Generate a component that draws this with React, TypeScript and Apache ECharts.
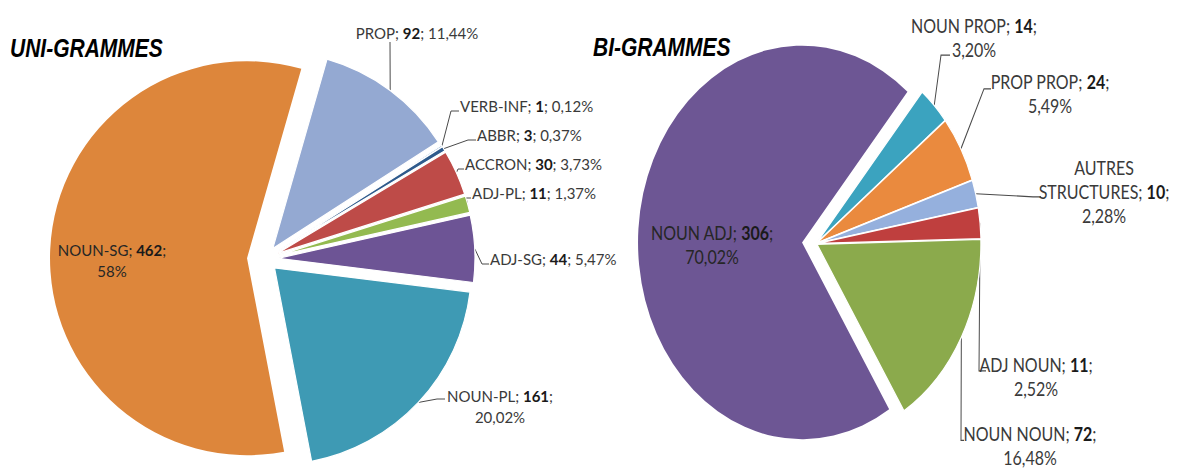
import React, { useEffect, useRef } from 'react';
import * as echarts from 'echarts';

// ---------- data ----------
const uniCategories = ['PROP', 'VERB-INF', 'ABBR', 'ACCRON', 'ADJ-PL', 'ADJ-SG', 'NOUN-PL', 'NOUN-SG'];
const uniValues = [92, 1, 3, 30, 11, 44, 161, 462];
const uniPercents = ['11,44%', '0,12%', '0,37%', '3,73%', '1,37%', '5,47%', '20,02%', '58%'];

const biCategories = ['NOUN PROP', 'PROP PROP', 'AUTRES STRUCTURES', 'ADJ NOUN', 'NOUN NOUN', 'NOUN ADJ'];
const biValues = [14, 24, 10, 11, 72, 306];
const biPercents = ['3,20%', '5,49%', '2,28%', '2,52%', '16,48%', '70,02%'];

const uniTitle = 'UNI-GRAMMES';
const biTitle = 'BI-GRAMMES';

// ---------- styles ----------
const uniColors = ['#94A9D2', '#4F81BD', '#2E5A8C', '#BE4B48', '#93BA50', '#6D5495', '#3E9AB4', '#DD863B'];
const biColors = ['#3BA3BF', '#EA8A3E', '#95B0DD', '#BF3F3E', '#8BAA4C', '#6D5694'];

// ---------- layout ----------
type Cfg = {
  cx: number; cy: number; r: number; startDeg: number; smallOffset: number; bigOffset: number;
  bigIndex: number; fontSize: number; lineHeight: number;
};
const UNI: Cfg = { cx: 265, cy: 259, r: 197, startDeg: 16, smallOffset: 13, bigOffset: 18, bigIndex: 7, fontSize: 15, lineHeight: 21 };
const BI: Cfg = { cx: 226, cy: 203, r: 164, startDeg: 40, smallOffset: 1, bigOffset: 14, bigIndex: 5, fontSize: 16, lineHeight: 20 };
const BI_SCALE_Y = 1.2;

type Spec = { x: number; y: number; align: 'left' | 'center'; wrap: 'none' | 'value' | 'name'; line?: number[][] };
const uniLabelSpecs: Spec[] = [
  { x: 417, y: 33, align: 'center', wrap: 'none', line: [[390, 42]] },
  { x: 460, y: 106, align: 'left', wrap: 'none', line: [[451, 111], [459, 111]] },
  { x: 477, y: 135, align: 'left', wrap: 'none', line: [[468, 140], [476, 140]] },
  { x: 465, y: 164, align: 'left', wrap: 'none', line: [[458, 169], [464, 169]] },
  { x: 472, y: 193, align: 'left', wrap: 'none', line: [[466, 198], [471, 198]] },
  { x: 490, y: 259, align: 'left', wrap: 'none', line: [[482, 264], [489, 264]] },
  { x: 500, y: 406, align: 'center', wrap: 'value', line: [[437, 399], [445, 399]] },
  { x: 112, y: 260, align: 'center', wrap: 'value' },
];
const biLabelSpecs: Spec[] = [
  { x: 384, y: 32, align: 'center', wrap: 'value', line: [[351, 46], [360, 46]] },
  { x: 460, y: 78.5, align: 'center', wrap: 'value', line: [[394, 74], [401, 74]] },
  { x: 514, y: 160, align: 'center', wrap: 'name', line: [[443, 164], [451, 164]] },
  { x: 446, y: 314, align: 'center', wrap: 'value', line: [[389, 309], [396, 309]] },
  { x: 440, y: 372, align: 'center', wrap: 'value', line: [[371, 367], [374, 367]] },
  { x: 122, y: 204, align: 'center', wrap: 'value' },
];

function midAngles(values: number[], startDeg: number) {
  const total = values.reduce((a, b) => a + b, 0);
  let acc = startDeg;
  return values.map((v) => {
    const span = (v / total) * 360;
    const m = acc + span / 2;
    acc += span;
    return m;
  });
}

function buildSeries(cats: string[], vals: number[], pcts: string[], colors: string[], cfg: Cfg, specs: Spec[]) {
  const mids = midAngles(vals, cfg.startDeg);
  const fmt = (i: number) => {
    const s = specs[i];
    if (s.wrap === 'none') return `{n|${cats[i]}; }{b|${vals[i]}}{n|; ${pcts[i]}}`;
    const name = s.wrap === 'name' ? cats[i].replace(' ', '}\n{n|') : cats[i];
    return `{n|${name}; }{b|${vals[i]}}{n|;}\n{n|${pcts[i]}}`;
  };
  return cats.map((_, k) => {
    const isBig = k === cfg.bigIndex;
    const off = isBig ? cfg.bigOffset : cfg.smallOffset;
    const rad = (mids[k] * Math.PI) / 180;
    const cx = cfg.cx + off * Math.sin(rad);
    const cy = cfg.cy - off * Math.cos(rad);
    const arc = [cx + cfg.r * Math.sin(rad), cy - cfg.r * Math.cos(rad)];
    const s = specs[k];
    const textColor = isBig ? '#262626' : '#3A3A3A';
    return {
      type: 'pie',
      name: cats[k],
      center: [cx, cy],
      radius: cfg.r,
      startAngle: 90 - cfg.startDeg,
      clockwise: true,
      silent: true,
      avoidLabelOverlap: false,
      emphasis: { disabled: true },
      itemStyle: { borderColor: '#fff', borderWidth: isBig ? 0 : 1.2 },
      label: {
        show: true,
        position: isBig ? 'inside' : 'outside',
        formatter: (p: any) => fmt(p.dataIndex),
        rich: {
          n: { fontFamily: 'Lato', fontSize: cfg.fontSize, color: textColor, lineHeight: cfg.lineHeight },
          b: { fontFamily: 'Lato', fontSize: cfg.fontSize, color: '#1A1A1A', fontWeight: 'bold', lineHeight: cfg.lineHeight },
        },
        overflow: 'none',
      },
      labelLine: { show: !isBig, lineStyle: { color: '#4A4A4A', width: 1 } },
      labelLayout: (p: any) => {
        if (p.dataIndex !== k) return {};
        const out: any = { x: s.x, y: s.y, align: s.align, verticalAlign: 'middle' };
        if (!isBig) out.labelLinePoints = [arc, ...(s.line || [])];
        return out;
      },
      data: cats.map((name, i) =>
        i === k
          ? { name, value: vals[i], itemStyle: { color: colors[i] } }
          : {
              name,
              value: vals[i],
              itemStyle: { color: 'rgba(0,0,0,0)', borderWidth: 0 },
              label: { show: false },
              labelLine: { show: false },
            }
      ),
    };
  });
}

const titleStyle = {
  fontFamily: 'Liberation Sans',
  fontSize: 21,
  fontWeight: 'bold',
  fontStyle: 'italic',
  fill: '#000',
  textVerticalAlign: 'middle',
};

const uniOption: any = {
  animation: false,
  backgroundColor: 'transparent',
  graphic: [{ type: 'text', x: 10, y: 48, scaleY: 1.25, style: { ...titleStyle, text: uniTitle } }],
  series: buildSeries(uniCategories, uniValues, uniPercents, uniColors, UNI, uniLabelSpecs),
};

const biOption: any = {
  animation: false,
  backgroundColor: 'transparent',
  graphic: [{ type: 'text', x: 3, y: 39, scaleY: 1.04, style: { ...titleStyle, text: biTitle } }],
  series: buildSeries(biCategories, biValues, biPercents, biColors, BI, biLabelSpecs),
};

export default function App() {
  const leftRef = useRef<HTMLDivElement>(null);
  const rightRef = useRef<HTMLDivElement>(null);
  useEffect(() => {
    const l = echarts.init(leftRef.current!, undefined, { renderer: 'svg' });
    const r = echarts.init(rightRef.current!, undefined, { renderer: 'svg' });
    l.setOption(uniOption);
    r.setOption(biOption);
    return () => {
      l.dispose();
      r.dispose();
    };
  }, []);
  return (
    <div style={{ position: 'fixed', left: 0, top: 0, width: 1183, height: 470, background: '#fff', overflow: 'hidden' }}>
      <div ref={leftRef} style={{ position: 'absolute', left: 0, top: 0, width: 640, height: 470 }} />
      <div
        ref={rightRef}
        style={{
          position: 'absolute',
          left: 590,
          top: 0,
          width: 593,
          height: 470 / BI_SCALE_Y,
          transform: `scaleY(${BI_SCALE_Y})`,
          transformOrigin: '0 0',
        }}
      />
    </div>
  );
}
